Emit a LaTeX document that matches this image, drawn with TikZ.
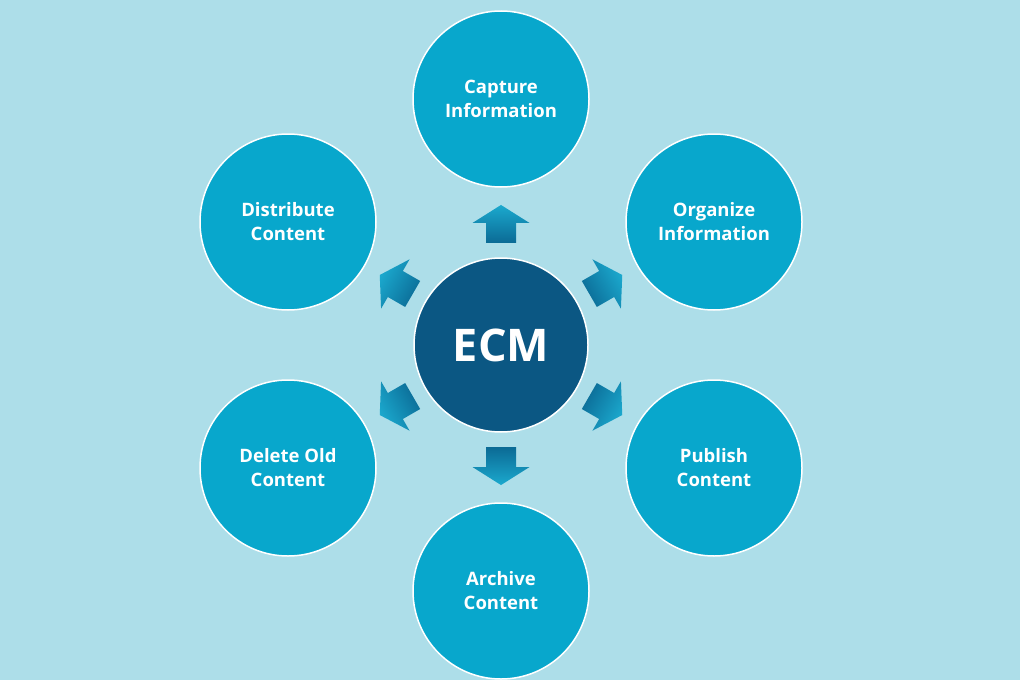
\documentclass[tikz,border=0pt]{standalone}
\usepackage{fontspec}
\setmainfont{Open Sans}
\usetikzlibrary{calc}
\definecolor{bg}{HTML}{ADDEE9}
\definecolor{outer}{HTML}{08A7CC}
\definecolor{core}{HTML}{0B5783}
\definecolor{arrtip}{HTML}{1BA9CE}
\definecolor{arrbase}{HTML}{0B6A95}
\newcommand\blockarrow[2]{%
  \shade[top color=arrtip, bottom color=arrbase, shading angle=#2,
         shift={($(ecm.center)!0.492!(#1.center)$)}, rotate=#2]
    (-15pt,-19pt) -- (15pt,-19pt) -- (15pt,1pt) -- (28.5pt,1pt) -- (0pt,19pt)
    -- (-28.5pt,1pt) -- (-15pt,1pt) -- cycle;}
\begin{document}
\begin{tikzpicture}[x=1pt,y=-1pt,
  stage/.style={circle, fill=outer, draw=white, line width=1.5pt,
    minimum size=176pt, inner sep=0pt, text=white, align=center,
    font=\fontsize{18.5}{24}\selectfont\bfseries},
  hub/.style={circle, fill=core, draw=white, line width=1.5pt,
    minimum size=174pt, inner sep=0pt, text=white,
    font=\fontsize{45}{54}\selectfont\bfseries}]
\fill[bg] (0,0) rectangle (1020,680);
\useasboundingbox (0,0) rectangle (1020,680);
\node[hub] (ecm) at (501,345) {ECM};
\node[stage] (cap) at (501,99)  {Capture\\Information};
\node[stage] (org) at (714,222) {Organize\\Information};
\node[stage] (pub) at (714,468) {Publish\\Content};
\node[stage] (arc) at (501,591) {Archive\\Content};
\node[stage] (del) at (288,468) {Delete Old\\Content};
\node[stage] (dis) at (288,222) {Distribute\\Content};
\blockarrow{cap}{0}
\blockarrow{org}{-60}
\blockarrow{pub}{-120}
\blockarrow{arc}{180}
\blockarrow{del}{120}
\blockarrow{dis}{60}
\end{tikzpicture}
\end{document}
